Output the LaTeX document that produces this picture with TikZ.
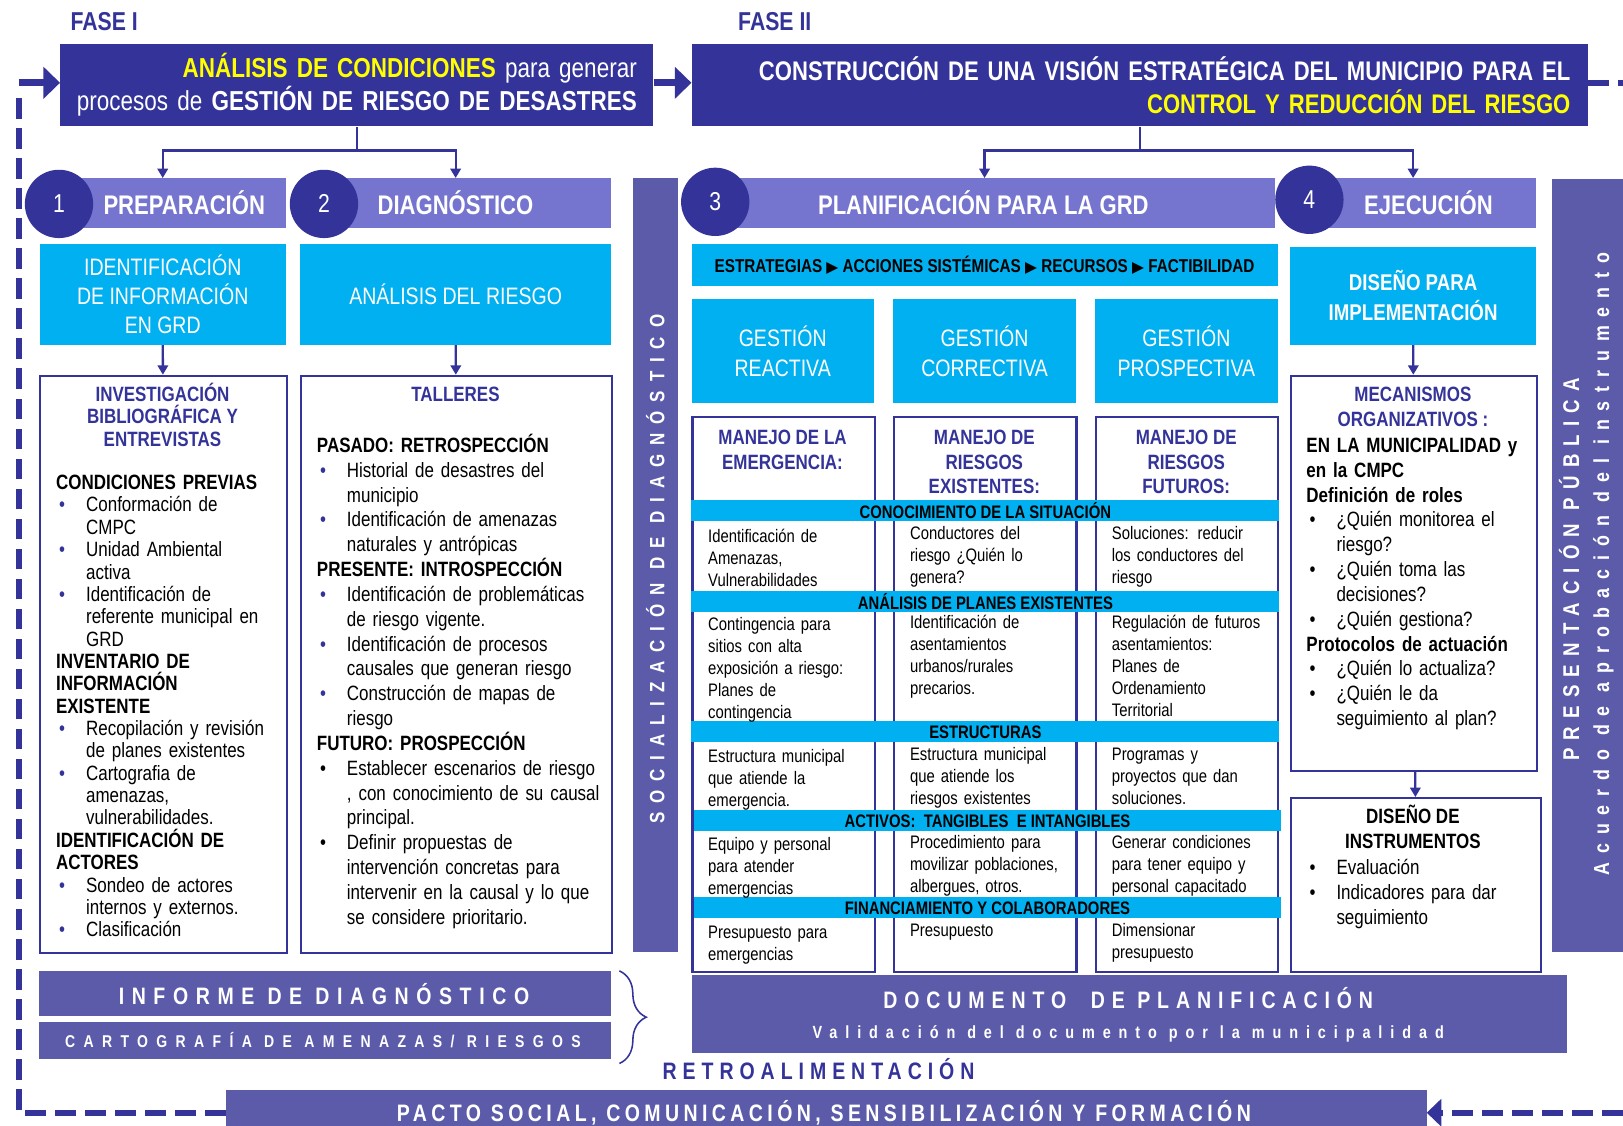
\documentclass[tikz,border=0pt]{standalone}
\usepackage{fontspec}
\setmainfont{Liberation Sans}[FakeStretch=0.82]
\newfontfamily\symfnt{DejaVu Sans}
\usepackage{xcolor}
\usepackage{tikz}
\usetikzlibrary{positioning,arrows.meta,calc,decorations.pathreplacing}
\definecolor{navyc}{RGB}{51,51,153}
\definecolor{stagec}{RGB}{117,117,207}
\definecolor{barc}{RGB}{91,91,170}
\definecolor{cyanc}{RGB}{0,176,240}
\definecolor{goldc}{RGB}{255,255,0}
\newcommand{\fsz}[2]{\fontsize{#1}{#2}\selectfont}
\newcommand{\nwl}{\newline}
\newcommand{\hd}[1]{\noindent\textbf{#1}\par}
\newcommand{\bul}[2][navyc]{\noindent\hangindent=29pt\hangafter=1\makebox[29pt][l]{\hspace{3pt}\textcolor{#1}{\textbullet}}#2\par}
\newcommand{\spc}[1]{\addfontfeature{LetterSpace=#1}}
\newcommand{\tri}{{\symfnt\fsz{15}{15}▶}}
\tikzset{
  phaselbl/.style = {anchor=base west, inner sep=0pt, text=navyc, font=\fsz{25}{25}\bfseries},
  phasebox/.style = {fill=navyc, anchor=north west, inner ysep=0pt, minimum height=80pt,
                     align=right, text=white, font=\fsz{26.5}{32}},
  stagebar/.style = {fill=stagec, anchor=north west, inner sep=0pt, minimum height=48pt},
  stagenum/.style = {circle, fill=navyc, minimum size=66pt, inner sep=0pt, text=white, font=\fsz{25}{25}},
  stagelbl/.style = {inner sep=0pt, text=white, font=\fsz{26}{26}\bfseries},
  cyanbox/.style  = {fill=cyanc, anchor=north west, inner sep=0pt, align=center, text=white,
                     font=\fsz{23}{28}},
  whitebox/.style = {draw=navyc, line width=2pt, fill=white, anchor=north west, inner sep=0pt},
  boxtitle/.style = {anchor=north, inner sep=0pt, align=center, text=navyc, font=\fsz{20}{21.5}\bfseries},
  body/.style     = {anchor=base west, inner sep=0pt, align=left, font=\fsz{20}{21.6}},
  cell/.style     = {body, text width=165pt, font=\fsz{17.5}{21.3}},
  band/.style     = {fill=cyanc, inner sep=0pt, minimum width=568pt, minimum height=20pt, text=black,
                     font=\fsz{17.5}{17.5}\bfseries},
  sidebar/.style  = {fill=barc, anchor=north west, inner sep=0pt},
  spaced/.style   = {inner sep=0pt, text=white, font=\fsz{#1}{#1}\bfseries},
  link/.style     = {-{Triangle[length=9pt,width=10pt]}, line width=2.2pt, draw=navyc},
  bigarrow/.style = {-{Triangle[length=16pt,width=30pt]}, line width=7pt, draw=navyc},
  loopline/.style = {draw=navyc, line width=6pt, dash pattern=on 20pt off 9pt},
}
\begin{document}
\begin{tikzpicture}[x=1pt, y=-1pt]
\useasboundingbox (0,0) rectangle (1568,1087);

% phases
\node[phaselbl] (faseI) at (68,29) {FASE I};
\node[phaselbl] (faseII) at (713,29) {FASE II};
\node[phasebox, minimum width=573pt, inner xsep=16pt, text width=541pt] (analisis) at (58,42)
  {\textcolor{goldc}{\textbf{ANÁLISIS DE CONDICIONES}} para generar\\
   procesos de \textbf{GESTIÓN DE RIESGO DE DESASTRES}};
\node[phasebox, minimum width=866pt, inner xsep=17pt, text width=832pt, font=\fsz{26}{32}] (vision) at (668,42)
  {\textbf{CONSTRUCCIÓN DE UNA VISIÓN ESTRATÉGICA DEL MUNICIPIO PARA EL}\\
   \textcolor{goldc}{\textbf{CONTROL Y REDUCCIÓN DEL RIESGO}}};

% stage bars
\node[stagebar, minimum width=219pt] (prep) at (57,172) {};
\node[stagebar, minimum width=277pt] (diag) at (313,172) {};
\node[stagebar, minimum width=541pt] (plan) at (691,172) {};
\node[stagebar, minimum width=219pt] (ejec) at (1265,172) {};
\node[stagenum] (n1) at (57,197) {1};
\node[stagenum] (n2) at (313,197) {2};
\node[stagenum] (n3) at (691,195) {3};
\node[stagenum] (n4) at (1265,193) {4};
\node[stagelbl] (preplbl) at (178,196) {PREPARACIÓN};
\node[stagelbl] (diaglbl) at (440,196) {DIAGNÓSTICO};
\node[stagelbl] (planlbl) at (950,196) {PLANIFICACIÓN PARA LA GRD};
\node[stagelbl] (ejeclbl) at (1380,196) {EJECUCIÓN};

% side bars
\node[sidebar, minimum width=44pt, minimum height=748pt] (soc) at (611,172) {};
\node[spaced=20, rotate=90] (soclbl) at (633,550) {\spc{43}SOCIALIZACIÓN DE DIAGNÓSTICO};
\node[sidebar, minimum width=69pt, minimum height=747pt] (pres) at (1499,173) {};
\node[spaced=22, rotate=90] (preslbl) at (1516,550) {\spc{36}PRESENTACIÓN PÚBLICA};
\node[spaced=21, rotate=90] (acuerdo) at (1549,545) {\spc{41}Acuerdo de aprobación del instrumento};

% cyan boxes
\node[cyanbox, minimum width=238pt, minimum height=97pt] (ident) at (38,236)
  {IDENTIFICACIÓN\\DE INFORMACIÓN\\EN GRD};
\node[cyanbox, minimum width=300pt, minimum height=97pt] (riesgo) at (290,236) {ANÁLISIS DEL RIESGO};
\node[cyanbox, minimum width=566pt, minimum height=40pt, text=black, font=\fsz{18}{18}\bfseries]
  (estrat) at (668,236) {ESTRATEGIAS \tri\ ACCIONES SISTÉMICAS \tri\ RECURSOS \tri\ FACTIBILIDAD};
\node[cyanbox, minimum width=176pt, minimum height=100pt, font=\fsz{23}{29}] (greact) at (668,289)
  {GESTIÓN\\REACTIVA};
\node[cyanbox, minimum width=176pt, minimum height=100pt, font=\fsz{23}{29}] (gcorr) at (863,289)
  {GESTIÓN\\CORRECTIVA};
\node[cyanbox, minimum width=176pt, minimum height=100pt, font=\fsz{23}{29}] (gprosp) at (1058,289)
  {GESTIÓN\\PROSPECTIVA};
\node[cyanbox, minimum width=238pt, minimum height=95pt, font=\fsz{22}{29}\bfseries] (impl) at (1246,238)
  {DISEÑO PARA\\IMPLEMENTACIÓN};

% white boxes
\node[whitebox, minimum width=238pt, minimum height=558pt] (invest) at (38,362) {};
\node[whitebox, minimum width=300pt, minimum height=558pt] (talleres) at (290,362) {};
\node[whitebox, minimum width=176pt, minimum height=536pt] (colemer) at (668,402) {};
\node[whitebox, minimum width=176pt, minimum height=536pt] (colexist) at (863,402) {};
\node[whitebox, minimum width=176pt, minimum height=536pt] (colfut) at (1058,402) {};
\node[whitebox, minimum width=238pt, minimum height=382pt] (mecan) at (1246,362) {};
\node[whitebox, minimum width=242pt, minimum height=168pt] (instr) at (1246,770) {};

% connectors
\coordinate (forkA) at ($(analisis.south)+(0,23)$);
\coordinate (forkB) at ($(vision.south)+(0,23)$);
\draw[link] (analisis.south) -- (forkA) -| (ident.north |- prep.north);
\draw[link] (forkA) -| (riesgo.north |- diag.north);
\draw[link] (vision.south) -- (forkB) -| (estrat.north |- plan.north);
\draw[link] (forkB) -| (impl.north |- ejec.north);
\draw[link] (ident) -- (invest);
\draw[link] (riesgo) -- (talleres);
\draw[link] (impl) -- (mecan);
\draw[link] (mecan) -- (instr);

% investigacion
\node[boxtitle] (investt) at (157,370) {INVESTIGACIÓN\\BIBLIOGRÁFICA Y\\ENTREVISTAS};
\node[body, text width=218pt] (investb) at (54,473) {%
  \hd{CONDICIONES PREVIAS}
  \bul{Conformación de\nwl CMPC}
  \bul{Unidad Ambiental\nwl activa}
  \bul{Identificación de\nwl referente municipal en\nwl GRD}
  \hd{INVENTARIO DE\nwl INFORMACIÓN\nwl EXISTENTE}
  \bul{Recopilación y revisión\nwl de planes existentes}
  \bul{Cartografia de\nwl amenazas,\nwl vulnerabilidades.}
  \hd{IDENTIFICACIÓN DE\nwl ACTORES}
  \bul{Sondeo de actores\nwl internos y externos.}
  \bul{Clasificación}};

% talleres
\node[boxtitle] (tallerest) at (440,374) {TALLERES};
\node[body, text width=280pt, font=\fsz{20}{24}] (talleresb) at (306,437) {%
  \hd{PASADO: RETROSPECCIÓN}
  \bul{Historial de desastres del\nwl municipio}
  \bul{Identificación de amenazas\nwl naturales y antrópicas}
  \hd{PRESENTE: INTROSPECCIÓN}
  \bul{Identificación de problemáticas\nwl de riesgo vigente.}
  \bul{Identificación de procesos\nwl causales que generan riesgo}
  \bul{Construcción de mapas de\nwl riesgo}
  \hd{FUTURO: PROSPECCIÓN}
  \bul[black]{Establecer escenarios de riesgo\nwl, con conocimiento de su causal\nwl principal.}
  \bul[black]{Definir propuestas de\nwl intervención concretas para\nwl intervenir en la causal y lo que\nwl se considere prioritario.}};

% planning matrix
\node[boxtitle, font=\fsz{20}{24}\bfseries] (emert) at (756,415) {MANEJO DE LA\\EMERGENCIA:};
\node[boxtitle, font=\fsz{20}{24}\bfseries] (existt) at (951,415) {MANEJO DE\\RIESGOS\\EXISTENTES:};
\node[boxtitle, font=\fsz{20}{24}\bfseries] (futt) at (1146,415) {MANEJO DE\\RIESGOS\\FUTUROS:};
\node[band] (bconoc) at (952,493) {CONOCIMIENTO DE LA SITUACIÓN};
\node[band] (bplanes) at (952,581) {ANÁLISIS DE PLANES EXISTENTES};
\node[band] (bestruc) at (952,707) {ESTRUCTURAS};
\node[band] (bactiv) at (954,793) {ACTIVOS:\ \ TANGIBLES\ \ E INTANGIBLES};
\node[band] (bfinan) at (954,877) {FINANCIAMIENTO Y COLABORADORES};

\node[cell] (c11) at (684,524) {Identificación de\nwl Amenazas,\nwl Vulnerabilidades};
\node[cell] (c12) at (879,521) {Conductores del\nwl riesgo ¿Quién lo\nwl genera?};
\node[cell] (c13) at (1074,521) {Soluciones: reducir\nwl los conductores del\nwl riesgo};
\node[cell] (c21) at (684,609) {Contingencia para\nwl sitios con alta\nwl exposición a riesgo:\nwl Planes de\nwl contingencia};
\node[cell] (c22) at (879,607) {Identificación de\nwl asentamientos\nwl urbanos/rurales\nwl precarios.};
\node[cell] (c23) at (1074,607) {Regulación de futuros\nwl asentamientos:\nwl Planes de\nwl Ordenamiento\nwl Territorial};
\node[cell] (c31) at (684,737) {Estructura municipal\nwl que atiende la\nwl emergencia.};
\node[cell] (c32) at (879,735) {Estructura municipal\nwl que atiende los\nwl riesgos existentes};
\node[cell] (c33) at (1074,735) {Programas y\nwl proyectos que dan\nwl soluciones.};
\node[cell] (c41) at (684,822) {Equipo y personal\nwl para atender\nwl emergencias};
\node[cell] (c42) at (879,820) {Procedimiento para\nwl movilizar poblaciones,\nwl albergues, otros.};
\node[cell] (c43) at (1074,820) {Generar condiciones\nwl para tener equipo y\nwl personal capacitado};
\node[cell] (c51) at (684,907) {Presupuesto para\nwl emergencias};
\node[cell] (c52) at (879,905) {Presupuesto};
\node[cell] (c53) at (1074,905) {Dimensionar\nwl presupuesto};

% ejecucion
\node[boxtitle, font=\fsz{20}{24}\bfseries] (mecant) at (1365,374) {MECANISMOS\\ORGANIZATIVOS :};
\node[body, text width=220pt, font=\fsz{20}{24}] (mecanb) at (1262,437) {%
  \hd{EN LA MUNICIPALIDAD y\nwl en la CMPC\nwl Definición de roles}
  \bul[black]{¿Quién monitorea el\nwl riesgo?}
  \bul[black]{¿Quién toma las\nwl decisiones?}
  \bul[black]{¿Quién gestiona?}
  \hd{Protocolos de actuación}
  \bul[black]{¿Quién lo actualiza?}
  \bul[black]{¿Quién le da\nwl seguimiento al plan?}};
\node[boxtitle, text=black, font=\fsz{20}{24}\bfseries] (instrt) at (1365,778) {DISEÑO DE\\INSTRUMENTOS};
\node[body, text width=220pt, font=\fsz{20}{24}] (instrb) at (1262,845) {%
  \bul[black]{Evaluación}
  \bul[black]{Indicadores para dar\nwl seguimiento}};

% products
\node[sidebar, minimum width=553pt, minimum height=43pt] (informe) at (37,938) {};
\node[spaced=23] (informelbl) at (313,960) {\spc{32}INFORME DE DIAGNÓSTICO};
\node[sidebar, minimum width=553pt, minimum height=36pt] (carto) at (37,987) {};
\node[spaced=16.5] (cartolbl) at (312,1005) {\spc{49}CARTOGRAFÍA DE AMENAZAS/ RIESGOS};
\draw[navyc, line width=1.5pt, decorate, decoration={brace, amplitude=26pt, aspect=0.5}]
  ($(informe.north east)+(8,0)$) -- ($(carto.south east)+(8,4)$);
\node[sidebar, minimum width=846pt, minimum height=75pt] (docplan) at (668,942) {};
\node[spaced=23] (docplanlbl) at (1090,964) {\spc{29}DOCUMENTO\hspace{12pt} DE PLANIFICACIÓN};
\node[spaced=17] (validlbl) at (1090,999) {\spc{45}Validación del documento por la municipalidad};
\node[spaced=23, text=navyc, anchor=base west] (retro) at (640,1043) {\spc{25}RETROALIMENTACIÓN};
\node[sidebar, minimum width=1160pt, minimum height=44pt] (pacto) at (218,1053) {};
\node[spaced=23] (pactolbl) at (796,1075) {\spc{18.5}PACTO SOCIAL, COMUNICACIÓN, SENSIBILIZACIÓN Y FORMACIÓN};

% feedback loop
\coordinate (loopL) at (18,80);
\coordinate (loopTR) at (1568,80);
\coordinate (loopBR) at (1568,1075);
\draw[loopline] (pacto.west |- pactolbl) -| ($(loopL)+(0,8)$);
\draw[bigarrow] (loopL) -- (analisis.west |- loopL);
\draw[bigarrow] (analisis.east |- loopL) -- (vision.west |- loopL);
\draw[loopline] (vision.east |- loopL) -- (loopTR);
\draw[loopline, -{Triangle[length=14pt,width=26pt]}] (loopBR) -- (pacto.east |- pactolbl);

\end{tikzpicture}
\end{document}
